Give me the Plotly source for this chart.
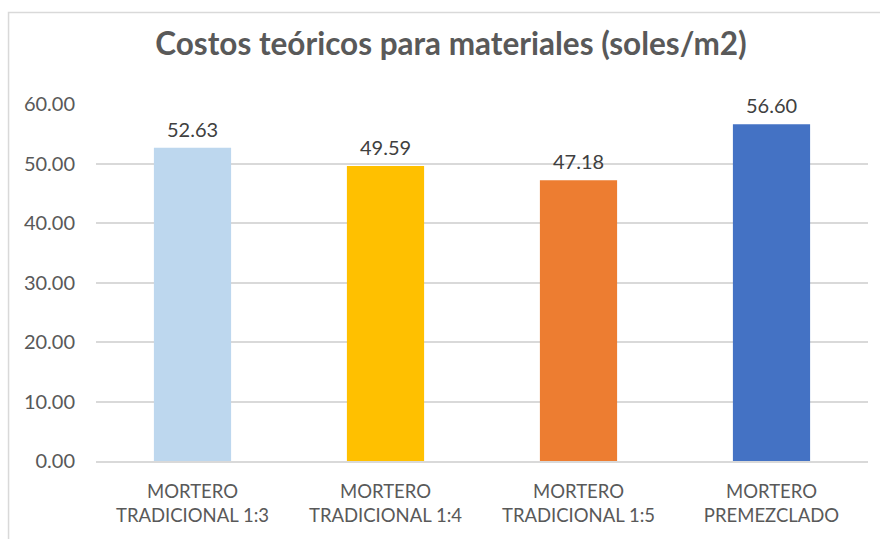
import plotly.graph_objects as go

categories = ["MORTERO<br>TRADICIONAL 1:3", "MORTERO<br>TRADICIONAL 1:4",
              "MORTERO<br>TRADICIONAL 1:5", "MORTERO<br>PREMEZCLADO"]
values = [52.63, 49.59, 47.18, 56.60]
bar_colors = ["#BDD7EE", "#FFC000", "#ED7D31", "#4472C4"]
y_ticks = [0, 10, 20, 30, 40, 50, 60]

FONT = "Lato"

fig = go.Figure(go.Bar(
    x=categories, y=values, marker=dict(color=bar_colors, line=dict(width=0)),
    width=0.4, hoverinfo="skip",
))

for cat, v in zip(categories, values):
    fig.add_annotation(x=cat, y=v, text=f"{v:.2f}", showarrow=False,
                       yanchor="bottom", yshift=5,
                       font=dict(family=FONT, size=20, color="#404040"))

# outer chart frame
fig.add_shape(type="rect", xref="paper", yref="paper",
              x0=-0.1133, x1=1.2, y0=-0.4, y1=1.2563,
              line=dict(color="#D9D9D9", width=1.5), layer="below")

fig.update_layout(
    width=880, height=539,
    margin=dict(l=96, r=12, t=104, b=78),
    paper_bgcolor="white", plot_bgcolor="white",
    showlegend=False,
    title=dict(text="<b>Costos teóricos para materiales (soles/m2)</b>",
               x=0.5125, xanchor="center", y=0.918, yanchor="middle",
               font=dict(family=FONT, size=31.5, color="#595959")),
    xaxis=dict(showgrid=False, showline=True, linecolor="#D9D9D9", linewidth=1.5,
               ticks="", ticklabelstandoff=13,
               tickfont=dict(family=FONT, size=18.5, color="#595959")),
    yaxis=dict(range=[0, 60], tickvals=y_ticks, tickformat=".2f",
               showgrid=True, gridcolor="#D9D9D9", gridwidth=1.5,
               zeroline=False, showline=False, ticks="",
               ticklabelstandoff=20,
               tickfont=dict(family=FONT, size=20, color="#595959")),
)

fig.write_html("out.html")
